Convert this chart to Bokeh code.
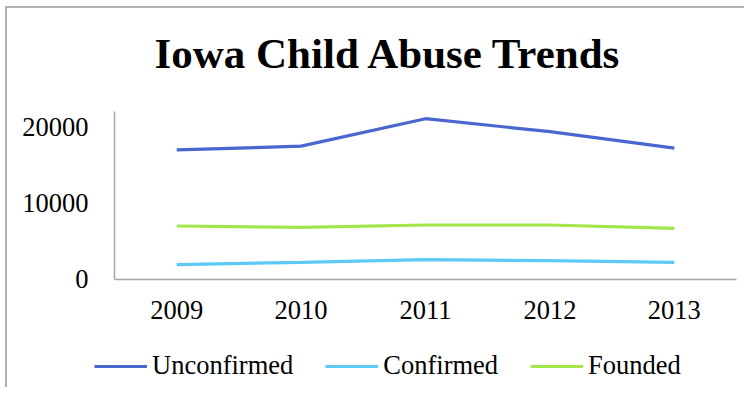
from bokeh.plotting import figure
from bokeh.models import Range1d, Legend, LegendItem, FixedTicker, ColumnDataSource, Label
from bokeh.embed import file_html
from bokeh.resources import INLINE

years = [2009, 2010, 2011, 2012, 2013]
unconfirmed = [17000, 17500, 21100, 19400, 17250]
confirmed = [1950, 2250, 2600, 2480, 2260]
founded = [7020, 6850, 7150, 7150, 6720]
series_names = ["Unconfirmed", "Confirmed", "Founded"]
colors = ["#4a66cf", "#5ccaf4", "#a2e64c"]
y_ticks = [0, 10000, 20000]
title_text = "Iowa Child Abuse Trends"

FONT = "Liberation Serif"
FS = "26.5px"

# axis extents (half a category beyond the first/last year, as in the source chart)
x_lo, x_hi = years[0] - 0.5, years[-1] + 0.5
y_top = 22050

p = figure(width=739, height=381, output_backend="svg", toolbar_location=None,
           x_range=Range1d(2007.64, 2013.58), y_range=Range1d(-14436, 35564),
           min_border_left=0, min_border_right=0, min_border_top=0, min_border_bottom=0)
p.styles = {"margin-left": "5px", "margin-top": "6px",
            "border-left": "2px solid #b0b0b0", "border-top": "2px solid #b0b0b0"}

src = ColumnDataSource(dict(x=years, u=unconfirmed, c=confirmed, f=founded))
renderers = []
for key, col in zip(["u", "c", "f"], colors):
    r = p.line("x", key, source=src, line_color=col, line_width=3.2)
    renderers.append(r)

p.xgrid.visible = False
p.ygrid.visible = False
p.outline_line_color = None

for ax in (p.xaxis, p.yaxis):
    ax.axis_line_color = "#a6a6a6"
    ax.axis_line_width = 1.5
    ax.major_tick_line_color = None
    ax.minor_tick_line_color = None
    ax.major_label_text_font = FONT
    ax.major_label_text_font_size = FS
    ax.major_label_text_color = "#000000"

p.xaxis.fixed_location = 0
p.xaxis.bounds = (x_lo, x_hi)
p.xaxis.ticker = FixedTicker(ticks=years)
p.xaxis.major_label_standoff = 16

p.yaxis.fixed_location = x_lo
p.yaxis.bounds = (0, y_top)
p.yaxis.ticker = FixedTicker(ticks=y_ticks)
p.yaxis.major_label_standoff = 20

p.add_layout(Label(x=147, y=336, x_units="screen", y_units="screen", text=title_text,
                   text_font=FONT, text_font_size="43px", text_font_style="bold",
                   text_color="#000000", text_baseline="alphabetic", text_align="left"))

legend = Legend(items=[LegendItem(label=n, renderers=[r]) for n, r in zip(series_names, renderers)],
                orientation="horizontal", location=(87, 8),
                label_text_font=FONT, label_text_font_size=FS, label_text_color="#000000",
                glyph_width=53, glyph_height=20, label_standoff=5, spacing=32,
                border_line_color=None, background_fill_alpha=0, padding=0, margin=0)
p.add_layout(legend, "center")

open("out.html", "w").write(file_html(p, INLINE))
